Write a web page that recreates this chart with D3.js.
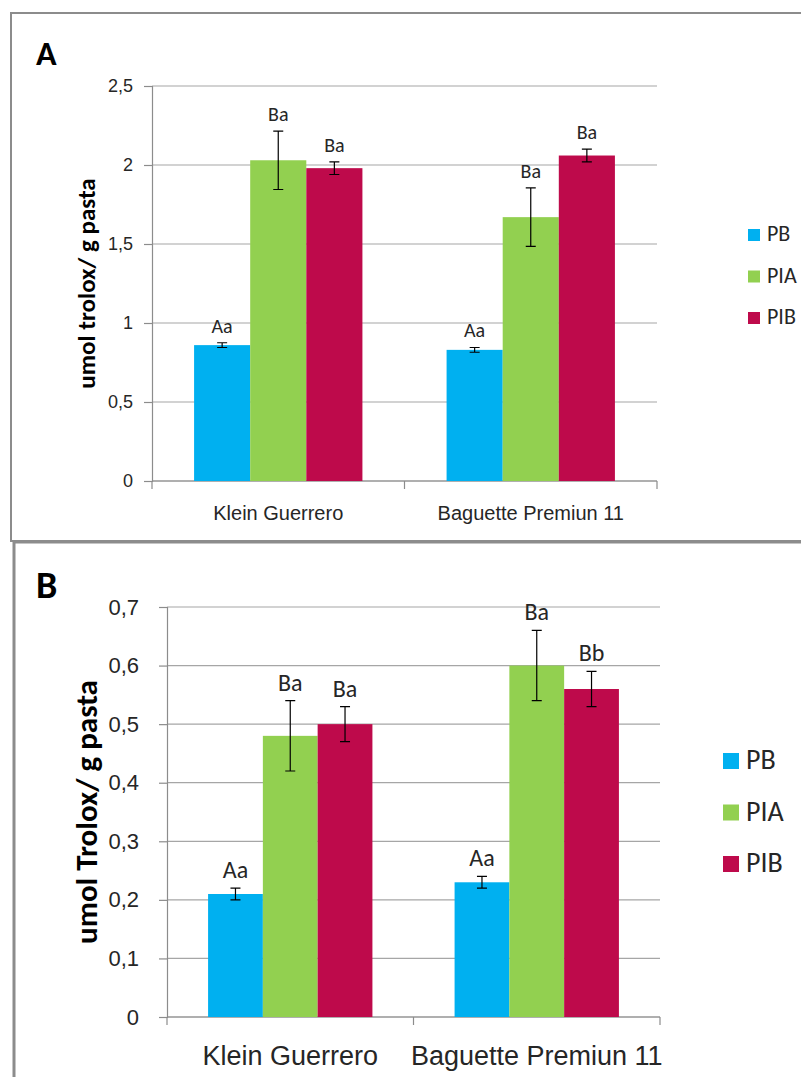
<!DOCTYPE html>
<html lang="en">
<head>
    <meta charset="UTF-8">
    <title>Antioxidant activity</title>
    <script src="https://d3js.org/d3.v7.min.js"></script>
</head>
<body style="margin:0;background:#fff">
<style>
    svg { font-family: Carlito, Calibri, Lato, sans-serif; }
    .tick text { fill: #262626; }
</style>

<div id="my_dataviz"></div>

<script>

    // data
    var categories = ["Klein Guerrero", "Baguette Premiun 11"];
    var series = ["PB", "PIA", "PIB"];
    var colors = ["#00B0F0", "#92D050", "#BE0A4B"];

    // panel A (per series, per category)
    var valuesA = [[0.86, 0.83], [2.03, 1.67], [1.98, 2.06]];
    var errorsA = [[0.015, 0.015], [0.185, 0.185], [0.04, 0.04]];
    var lettersA = [["Aa", "Aa"], ["Ba", "Ba"], ["Ba", "Ba"]];
    var ticksA = [0, 0.5, 1, 1.5, 2, 2.5];

    // panel B
    var valuesB = [[0.21, 0.23], [0.48, 0.60], [0.50, 0.56]];
    var errorsB = [[0.01, 0.01], [0.06, 0.06], [0.03, 0.03]];
    var lettersB = [["Aa", "Aa"], ["Ba", "Ba"], ["Ba", "Bb"]];
    var ticksB = [0, 0.1, 0.2, 0.3, 0.4, 0.5, 0.6, 0.7];

    var commaFmt = function (v) { return String(v).replace(".", ","); };

    var svg = d3.select("#my_dataviz").append("svg")
        .attr("width", 801)
        .attr("height", 1077);

    // panel frames
    svg.append("path")
        .attr("d", "M803,13 H11 V541 H803")
        .attr("fill", "none").attr("stroke", "#8c8c8c").attr("stroke-width", 2);
    svg.append("path")
        .attr("d", "M803,542 H14 V1080")
        .attr("fill", "none").attr("stroke", "#8c8c8c").attr("stroke-width", 3);

    function drawPanel(p) {
        var g = svg.append("g");

        var y = d3.scaleLinear().domain([0, p.ticks[p.ticks.length - 1]]).range([p.bottom, p.top]);
        var x0 = d3.scaleBand().domain(categories).range([p.left, p.right]);
        var x1 = d3.scaleBand().domain(series).range([0, x0.bandwidth()]).paddingOuter(0.75);

        // gridlines
        g.append("g").selectAll("line").data(p.ticks).enter().append("line")
            .attr("x1", p.left).attr("x2", p.right)
            .attr("y1", function (d) { return y(d); })
            .attr("y2", function (d) { return y(d); })
            .attr("stroke", "#a6a6a6").attr("stroke-width", 1.2);

        // y axis
        var ya = g.append("g").attr("transform", "translate(" + p.left + ",0)")
            .call(d3.axisLeft(y).tickValues(p.ticks).tickSize(8).tickPadding(p.tickPad).tickFormat(commaFmt));
        ya.selectAll("path, line").attr("stroke", "#8c8c8c").attr("stroke-width", 1.2);
        ya.selectAll("text").style("font-size", p.tickSize + "px");

        // x axis line + boundary ticks
        g.append("line").attr("x1", p.left).attr("x2", p.right)
            .attr("y1", y(0)).attr("y2", y(0)).attr("stroke", "#8c8c8c").attr("stroke-width", 1.2);
        var bounds = categories.map(function (c) { return x0(c); }).concat([p.right]);
        g.append("g").selectAll("line").data(bounds).enter().append("line")
            .attr("x1", function (d) { return d; }).attr("x2", function (d) { return d; })
            .attr("y1", y(0)).attr("y2", y(0) + 8)
            .attr("stroke", "#8c8c8c").attr("stroke-width", 1.2);

        // category labels
        var xa = g.append("g").attr("transform", "translate(0," + y(0) + ")")
            .call(d3.axisBottom(x0).tickSize(0));
        xa.select(".domain").remove();
        xa.selectAll("text").attr("y", p.catBase).attr("dy", 0)
            .style("font-size", p.catSize + "px");

        // bars, error bars, letters
        series.forEach(function (s, si) {
            var bg = g.append("g");
            var rows = categories.map(function (c, ci) {
                return {c: c, v: p.values[si][ci], e: p.errors[si][ci], t: p.letters[si][ci]};
            });
            bg.selectAll("rect").data(rows).enter().append("rect")
                .attr("x", function (d) { return x0(d.c) + x1(s); })
                .attr("width", x1.bandwidth())
                .attr("y", function (d) { return y(d.v); })
                .attr("height", function (d) { return y(0) - y(d.v); })
                .attr("fill", colors[si]);

            var cx = function (d) { return x0(d.c) + x1(s) + x1.bandwidth() / 2; };
            bg.selectAll(".err").data(rows).enter().append("path")
                .attr("class", "err")
                .attr("d", function (d) {
                    var xc = cx(d), hi = y(d.v + d.e), lo = y(d.v - d.e);
                    return "M" + (xc - 5) + "," + hi + "H" + (xc + 5) +
                        "M" + xc + "," + hi + "V" + lo +
                        "M" + (xc - 5) + "," + lo + "H" + (xc + 5);
                })
                .attr("fill", "none").attr("stroke", "#000").attr("stroke-width", 1.2);

            bg.selectAll("text").data(rows).enter().append("text")
                .attr("x", cx)
                .attr("y", function (d) { return y(d.v + d.e) - 10; })
                .attr("text-anchor", "middle")
                .style("font-size", p.letterSize + "px")
                .attr("fill", "#262626")
                .text(function (d) { return d.t; });
        });

        // y title
        g.append("text")
            .attr("transform", "translate(" + p.titleX + "," + ((p.top + p.bottom) / 2) + ") rotate(-90)")
            .attr("text-anchor", "middle")
            .style("font-size", p.titleSize + "px").style("font-weight", "bold")
            .attr("fill", "#000")
            .text(p.title);

        // panel letter
        g.append("text").attr("x", 36).attr("y", p.letterY)
            .style("font-size", p.panelSize + "px").style("font-weight", "bold")
            .text(p.panel);

        // legend
        var lg = g.append("g").selectAll("g").data(series).enter().append("g")
            .attr("transform", function (d, i) { return "translate(" + p.legX + "," + (p.legY + i * p.legStep) + ")"; });
        lg.append("rect").attr("x", 0).attr("y", -p.legBox).attr("width", p.legBox).attr("height", p.legBox)
            .attr("fill", function (d, i) { return colors[i]; });
        lg.append("text").attr("x", p.legBox + 7).attr("y", 0)
            .style("font-size", p.legSize + "px").attr("fill", "#262626")
            .text(function (d) { return d; });
    }

    drawPanel({
        panel: "A", letterY: 65, panelSize: 34,
        values: valuesA, errors: errorsA, letters: lettersA, ticks: ticksA,
        left: 152, right: 657, top: 86, bottom: 481,
        tickSize: 18, tickPad: 11, catSize: 20, catBase: 39, letterSize: 20,
        title: "umol trolox/ g pasta", titleX: 95, titleSize: 25,
        legX: 748, legY: 241, legStep: 41.5, legBox: 12, legSize: 22
    });

    drawPanel({
        panel: "B", letterY: 598, panelSize: 38,
        values: valuesB, errors: errorsB, letters: lettersB, ticks: ticksB,
        left: 167, right: 660, top: 607, bottom: 1017,
        tickSize: 22, tickPad: 20, catSize: 27, catBase: 48, letterSize: 24,
        title: "umol Trolox/ g pasta", titleX: 97, titleSize: 31,
        legX: 723, legY: 769, legStep: 51.5, legBox: 16, legSize: 28
    });

</script>

</body>
</html>
